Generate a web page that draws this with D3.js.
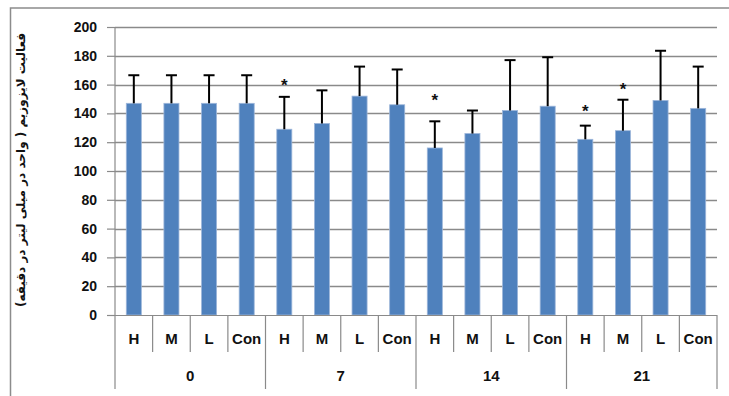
<!DOCTYPE html>
<html><head><meta charset="utf-8">
<script src="https://cdn.jsdelivr.net/npm/d3@7"></script>
<style>body{margin:0;background:#fff}svg{display:block}</style>
</head><body>
<script>
const groups = ["0","7","14","21"];
const treatments = ["H","M","L","Con"];
const means = [
  [147,147,147,147],
  [129,133,152,146],
  [116,126,142,145],
  [122,128,149,143.5]
];
const upper = [
  [166.5,166.5,166.5,166.5],
  [151.5,156,172.5,170.5],
  [134.5,142,177,179],
  [131.5,149.5,183.5,172.5]
];
const starPos = [
  [null,null,null,null],
  [161,null,null,null],
  [151,null,null,null],
  [143,158.5,null,null]
];
const yTicks = [0,20,40,60,80,100,120,140,160,180,200];
const yTitle = "فعالیت لایزوزیم ( واحد در میلی لیتر در دقیقه)";

const W=729,H=396;
const svg=d3.select("body").append("svg").attr("width",W).attr("height",H);
svg.append("rect").attr("x",10.5).attr("y",8).attr("width",730).attr("height",400)
  .attr("fill","none").attr("stroke","#8c8c8c").attr("stroke-width",1.5);

const x0=115,x1=717,yTop=27,yBot=315;
const y=d3.scaleLinear().domain([0,200]).range([yBot,yTop]);
const flat=[];
groups.forEach((g,gi)=>treatments.forEach((t,ti)=>flat.push({g,gi,t,ti,key:g+"-"+t,v:means[gi][ti],u:upper[gi][ti],s:starPos[gi][ti]})));
const x=d3.scaleBand().domain(flat.map(d=>d.key)).range([x0,x1]).paddingInner(0.6).paddingOuter(0.3);
const band=d3.scaleBand().domain(flat.map(d=>d.key)).range([x0,x1]);
const gx=d3.scaleBand().domain(groups).range([x0,x1]);

// gridlines
svg.append("g").selectAll("line").data(yTicks.filter(d=>d>0)).join("line")
  .attr("x1",x0).attr("x2",x1).attr("y1",d=>Math.round(y(d))+0.5).attr("y2",d=>Math.round(y(d))+0.5)
  .attr("stroke","#8a8a8a").attr("stroke-width",1.5);

// y axis
const ya=svg.append("g").attr("transform",`translate(${x0},0)`)
  .call(d3.axisLeft(y).tickValues(yTicks).tickSize(8).tickPadding(10));
ya.select(".domain").remove();
ya.selectAll(".tick line").attr("stroke","#8a8a8a").attr("stroke-width",1.2);
ya.selectAll("text").attr("font-family","Liberation Sans, Arial, sans-serif").attr("font-weight","bold").attr("font-size",14).attr("fill","#111");
svg.append("line").attr("x1",x0).attr("x2",x0).attr("y1",yTop).attr("y2",389).attr("stroke","#8a8a8a").attr("stroke-width",1.2);

// bars
svg.append("g").selectAll("rect").data(flat).join("rect")
  .attr("x",d=>x(d.key)).attr("width",x.bandwidth())
  .attr("y",d=>y(d.v)).attr("height",d=>y(0)-y(d.v))
  .attr("fill","#4F81BD").attr("stroke","#9db6da").attr("stroke-width",0.8);

// error bars
const eb=svg.append("g").attr("stroke","#000").attr("stroke-width",2);
flat.forEach(d=>{
  const cx=band(d.key)+band.bandwidth()/2;
  eb.append("line").attr("x1",cx).attr("x2",cx).attr("y1",y(d.v)).attr("y2",y(d.u));
  eb.append("line").attr("x1",cx-5.5).attr("x2",cx+5.5).attr("y1",y(d.u)).attr("y2",y(d.u));
});

// stars
svg.append("g").selectAll("text").data(flat.filter(d=>d.s!=null)).join("text")
  .attr("x",d=>band(d.key)+band.bandwidth()/2).attr("y",d=>y(d.s)+8)
  .attr("text-anchor","middle").attr("font-family","Liberation Sans, Arial, sans-serif")
  .attr("font-weight","bold").attr("font-size",17).attr("fill","#111").text("*");

// x axis
svg.append("line").attr("x1",x0).attr("x2",x1).attr("y1",yBot+0.5).attr("y2",yBot+0.5).attr("stroke","#8a8a8a").attr("stroke-width",1.2);
const tg=svg.append("g").attr("stroke","#8a8a8a").attr("stroke-width",1.2);
flat.forEach((d,i)=>{
  const bx=band(d.key);
  if(i>0) tg.append("line").attr("x1",bx).attr("x2",bx).attr("y1",yBot).attr("y2",d.ti===0?389:352);
});
tg.append("line").attr("x1",x1).attr("x2",x1).attr("y1",yBot).attr("y2",389);
svg.append("g").selectAll("text").data(flat).join("text")
  .attr("x",d=>band(d.key)+band.bandwidth()/2).attr("y",344)
  .attr("text-anchor","middle").attr("font-family","Liberation Sans, Arial, sans-serif")
  .attr("font-weight","bold").attr("font-size",15).attr("fill","#111").text(d=>d.t);
svg.append("g").selectAll("text").data(groups).join("text")
  .attr("x",d=>gx(d)+gx.bandwidth()/2).attr("y",381)
  .attr("text-anchor","middle").attr("font-family","Liberation Sans, Arial, sans-serif")
  .attr("font-weight","bold").attr("font-size",15).attr("fill","#111").text(d=>d);

// y title
svg.append("text").attr("transform","translate(25,170) rotate(-90)")
  .attr("text-anchor","middle").attr("direction","rtl").attr("font-family","DejaVu Sans, sans-serif")
  .attr("font-weight","bold").attr("font-size",12).attr("fill","#111").text(yTitle);
</script>
</body></html>
